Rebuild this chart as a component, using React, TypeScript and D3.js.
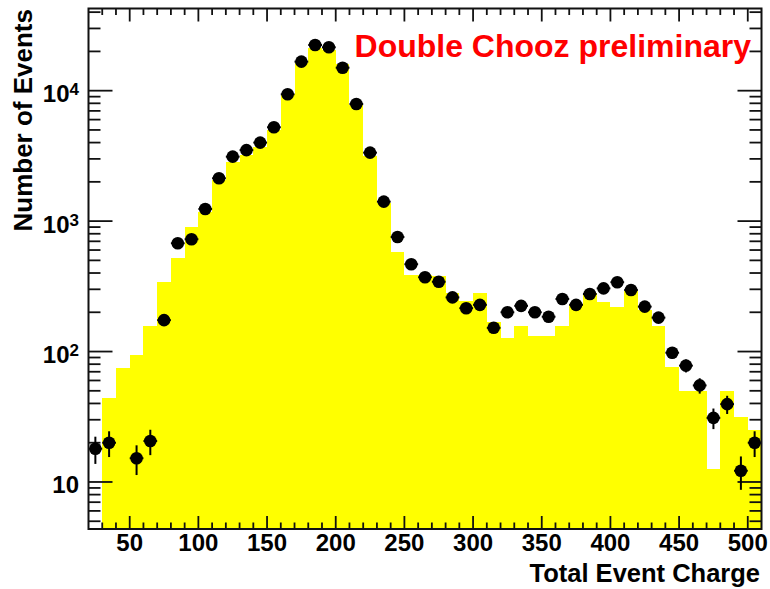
import React from "react";
import * as d3 from "d3";

// ---- data ----
const binLowEdges: number[] = d3.range(20, 510, 10);
const binWidth = 10;
// Monte Carlo expectation (yellow histogram)
const mcValues: number[] = [
  0, 44, 75, 94, 157, 343, 524, 897, 1180, 2050,
  2860, 3200, 3700, 5000, 9400, 16400, 21300, 20500, 16000, 7700,
  3150, 1380, 575, 386, 384, 380, 280, 245, 282, 168,
  126, 157, 132, 132, 157, 232, 282, 241, 221, 292,
  210, 157, 76, 50, 50, 12.6, 50, 31.5, 25,
];
// Measured data (black points)
const dataValues: (number | null)[] = [
  18, 20, null, 15.2, 20.6, 174, 676, 726, 1239, 2130,
  3120, 3500, 4000, 5240, 9380, 16700, 22400, 21500, 15000, 7900,
  3350, 1410, 755, 467, 371, 343, 260, 215, 228, 152,
  200, 224, 200, 185, 253, 228, 276, 305, 340, 296,
  221, 182, 98, 78, 55, 31, 39.5, 12.2, 20,
];
const xTickValues: number[] = [50, 100, 150, 200, 250, 300, 350, 400, 450, 500];
const xTickLabels: string[] = ["50", "100", "150", "200", "250", "300", "350", "400", "450", "500"];
const yDecades: number[] = [10, 100, 1000, 10000];
const yDecadeBase: string[] = ["10", "10", "10", "10"];
const yDecadeExp: string[] = ["", "2", "3", "4"];
const xTitle = "Total Event Charge";
const yTitle = "Number of Events";
const banner = "Double Chooz preliminary";

// ---- layout ----
const W = 770;
const H = 589;
const L = 88.5;
const R = 761.5;
const T = 8.5;
const B = 529;
const FONT = "'Liberation Sans', Arial, Helvetica, sans-serif";

export default function App() {
  const x = d3.scaleLinear().domain([20, 510]).range([L, R]);
  const y = d3.scaleLog().domain([4.36, 42660]).range([B, T]);

  const xMinor = d3.range(30, 510, 10).filter((v) => v % 50 !== 0);
  const yMinor: number[] = [];
  for (const dec of [1, 10, 100, 1000, 10000]) {
    for (let k = 2; k <= 9; k++) {
      const v = k * dec;
      if (v > 4.36 && v < 42660) yMinor.push(v);
    }
  }
  const tickColor = "#111";

  return (
    <svg
      width={W}
      height={H}
      style={{ position: "absolute", left: 0, top: 0, background: "#fff" }}
    >
      {/* MC histogram */}
      <g shapeRendering="crispEdges">
        {binLowEdges.map((lo, i) =>
          mcValues[i] > 0 ? (
            <rect
              key={"mc" + i}
              x={x(lo)}
              width={x(lo + binWidth) - x(lo)}
              y={Math.max(T, y(mcValues[i]))}
              height={B - Math.max(T, y(mcValues[i]))}
              fill="#ffff00"
            />
          ) : null
        )}
      </g>

      {/* axis ticks */}
      <g stroke={tickColor} strokeWidth={1.8}>
        {xTickValues.map((v) => (
          <g key={"xt" + v}>
            <line x1={x(v)} x2={x(v)} y1={B} y2={B - 13} />
            <line x1={x(v)} x2={x(v)} y1={T} y2={T + 13} />
          </g>
        ))}
        {xMinor.map((v) => (
          <g key={"xm" + v}>
            <line x1={x(v)} x2={x(v)} y1={B} y2={B - 6.5} />
            <line x1={x(v)} x2={x(v)} y1={T} y2={T + 6.5} />
          </g>
        ))}
        {yDecades.map((v) => (
          <g key={"yt" + v}>
            <line x1={L} x2={L + 24} y1={y(v)} y2={y(v)} />
            <line x1={R} x2={R - 24} y1={y(v)} y2={y(v)} />
          </g>
        ))}
        {yMinor.map((v) => (
          <g key={"ym" + v}>
            <line x1={L} x2={L + 12} y1={y(v)} y2={y(v)} />
            <line x1={R} x2={R - 12} y1={y(v)} y2={y(v)} />
          </g>
        ))}
      </g>

      {/* data points */}
      <g>
        {binLowEdges.map((lo, i) => {
          const v = dataValues[i];
          if (v == null) return null;
          const cx = x(lo + binWidth / 2);
          const err = Math.sqrt(v);
          return (
            <g key={"pt" + i}>
              <line
                x1={cx}
                x2={cx}
                y1={y(v + err)}
                y2={y(Math.max(v - err, 0.5))}
                stroke="#000"
                strokeWidth={2}
              />
              <line
                x1={x(lo)}
                x2={x(lo + binWidth)}
                y1={y(v)}
                y2={y(v)}
                stroke="#000"
                strokeWidth={2}
              />
              <circle cx={cx} cy={y(v)} r={6.3} fill="#000" />
            </g>
          );
        })}
      </g>

      {/* frame */}
      <rect
        x={L}
        y={T}
        width={R - L}
        height={B - T}
        fill="none"
        stroke={tickColor}
        strokeWidth={2}
      />

      {/* x tick labels */}
      <g fontFamily={FONT} fontWeight="bold" fontSize={24} fill="#000">
        {xTickValues.map((v, i) => (
          <text key={"xl" + v} x={x(v)} y={551} textAnchor="middle">
            {xTickLabels[i]}
          </text>
        ))}
      </g>

      {/* y tick labels */}
      <g fontFamily={FONT} fontWeight="bold" fill="#000">
        {yDecades.map((v, i) => (
          <text key={"yl" + v} x={79} y={y(v) + 11.5} textAnchor="end" fontSize={24}>
            <tspan>{yDecadeBase[i]}</tspan>
            {yDecadeExp[i] ? (
              <tspan fontSize={17} dy={-7}>
                {yDecadeExp[i]}
              </tspan>
            ) : null}
          </text>
        ))}
      </g>

      {/* axis titles */}
      <text
        x={760}
        y={581.5}
        textAnchor="end"
        fontFamily={FONT}
        fontWeight="bold"
        fontSize={25.5}
        fill="#000"
      >
        {xTitle}
      </text>
      <text
        transform={`translate(31.5, 9) rotate(-90)`}
        textAnchor="end"
        fontFamily={FONT}
        fontWeight="bold"
        fontSize={26}
        fill="#000"
      >
        {yTitle}
      </text>

      {/* banner */}
      <text
        x={751}
        y={56.5}
        textAnchor="end"
        fontFamily={FONT}
        fontWeight="bold"
        fontSize={32}
        fill="#ff0000"
      >
        {banner}
      </text>
    </svg>
  );
}
